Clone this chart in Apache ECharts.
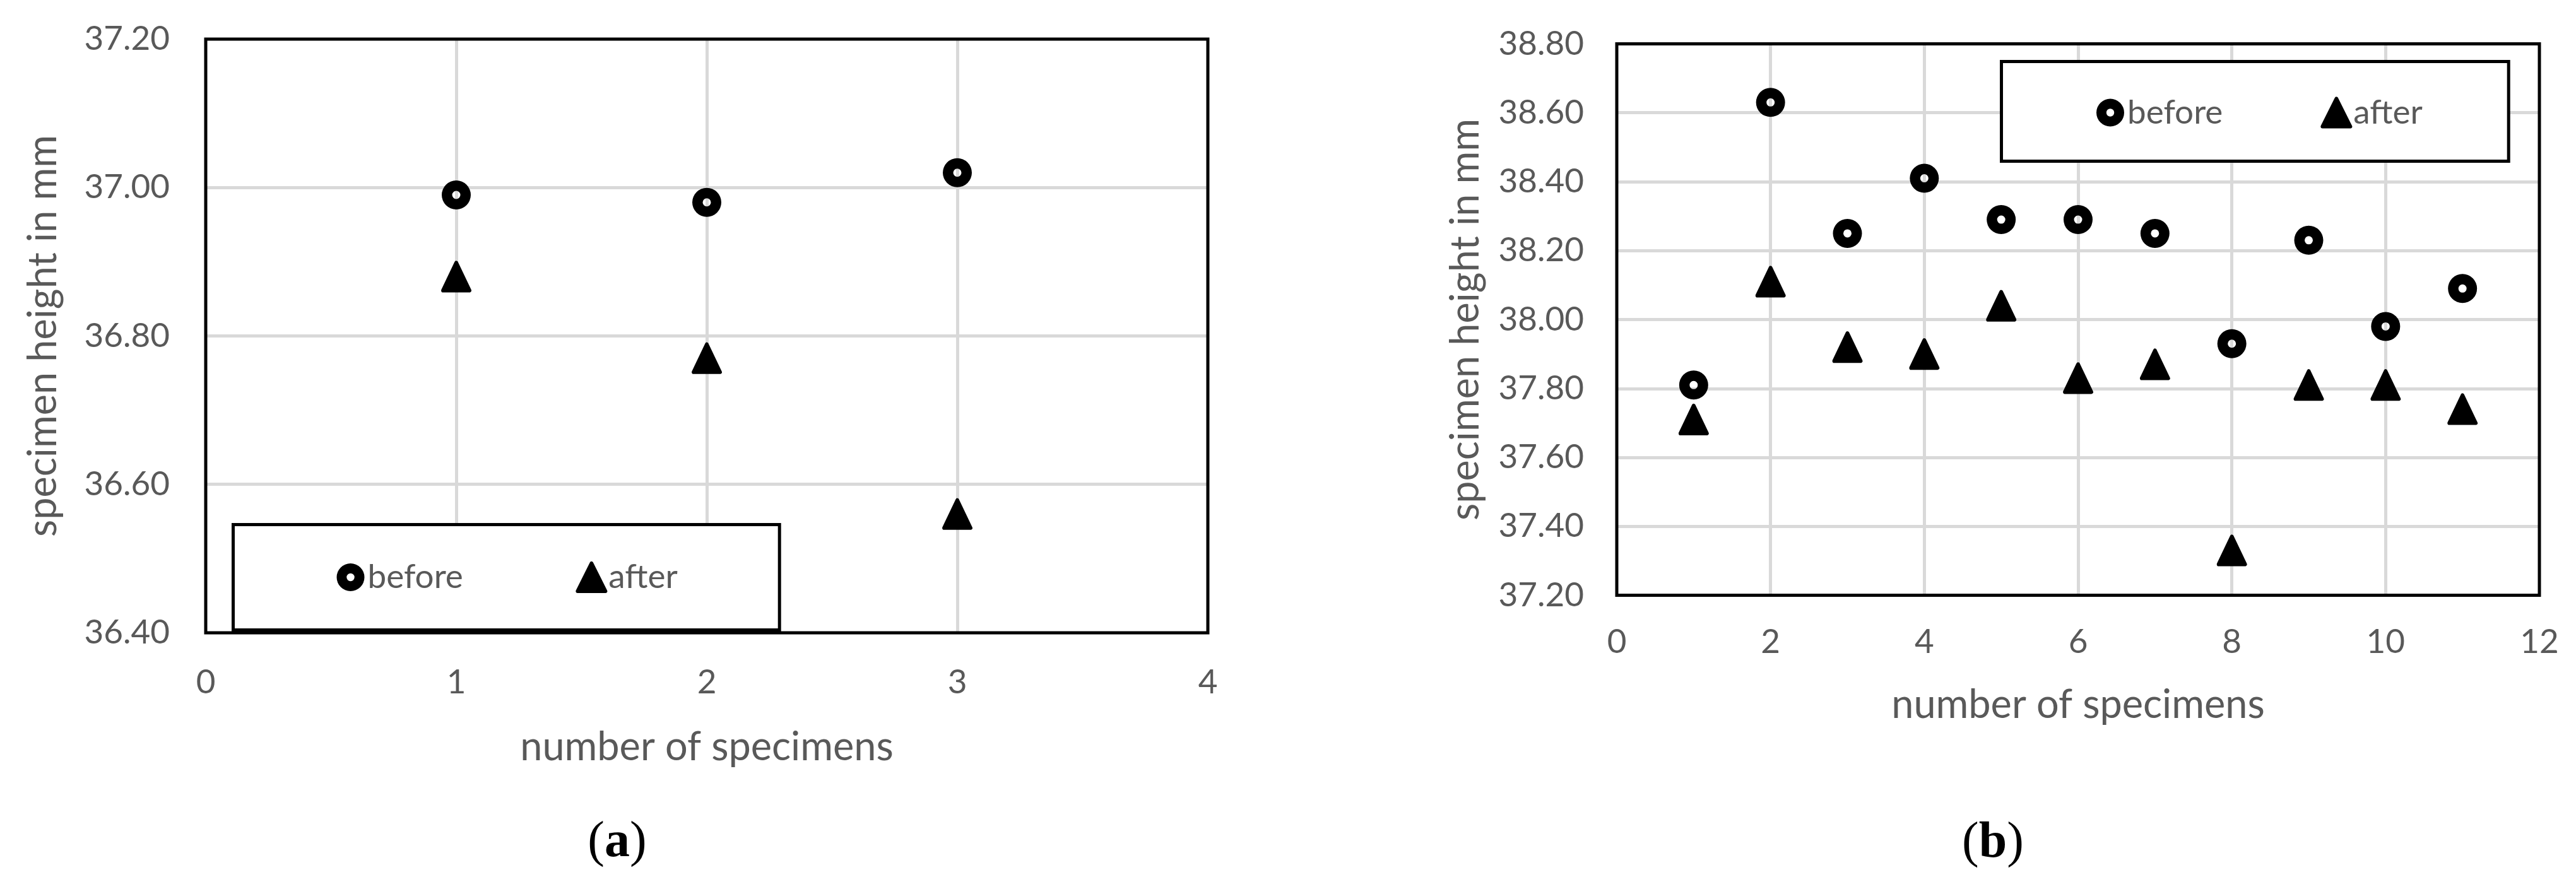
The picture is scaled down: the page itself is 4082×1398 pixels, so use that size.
<!DOCTYPE html>
<html>
<head>
<meta charset="utf-8">
<script src="https://cdn.jsdelivr.net/npm/echarts@6/dist/echarts.min.js"></script>
<style>
html,body{margin:0;padding:0;background:#fff;}
#chart{width:4082px;height:1398px;}
</style>
</head>
<body>
<div id="chart"></div>
<script>
// ---- data ----
const aSpecimens = [1, 2, 3];
const aBefore = [36.99, 36.98, 37.02];
const aAfter = [36.88, 36.77, 36.56];

const bSpecimens = [1, 2, 3, 4, 5, 6, 7, 8, 9, 10, 11];
const bBefore = [37.81, 38.63, 38.25, 38.41, 38.29, 38.29, 38.25, 37.93, 38.23, 37.98, 38.09];
const bAfter = [37.71, 38.11, 37.92, 37.90, 38.04, 37.83, 37.87, 37.33, 37.81, 37.81, 37.74];

const seriesNames = ['before', 'after'];
const xTitle = 'number of specimens';
const yTitle = 'specimen height in mm';
const captions = ['a', 'b'];

// ---- styling ----
const FONT = 'Lato';
const GREY = '#595959';
const GRIDC = '#d9d9d9';
const RING = 'path://M23,0 A23,23 0 1 1 23,46 A23,23 0 1 1 23,0 Z M23,16.5 A6.5,6.5 0 1 0 23,29.5 A6.5,6.5 0 1 0 23,16.5 Z';

function pairs(xs, ys) { return xs.map((x, i) => [x, ys[i]]); }

function xAxis(gi, max, interval, margin, nameGap) {
  return {
    gridIndex: gi, type: 'value', min: 0, max: max, interval: interval,
    name: xTitle, nameLocation: 'middle', nameGap: nameGap,
    nameTextStyle: { fontFamily: FONT, fontSize: 63, color: GREY },
    axisLine: { show: false }, axisTick: { show: false },
    axisLabel: { fontFamily: FONT, fontSize: 53, color: GREY, margin: margin },
    splitLine: { show: true, showMinLine: false, showMaxLine: false, lineStyle: { color: GRIDC, width: 5 } }
  };
}
function yAxis(gi, min, max, margin, nameGap) {
  return {
    gridIndex: gi, type: 'value', min: min, max: max, interval: 0.2,
    name: yTitle, nameLocation: 'middle', nameGap: nameGap, nameRotate: 90,
    nameTextStyle: { fontFamily: FONT, fontSize: 63, color: GREY },
    axisLine: { show: false }, axisTick: { show: false },
    axisLabel: { fontFamily: FONT, fontSize: 53, color: GREY, margin: margin,
      formatter: v => v.toFixed(2) },
    splitLine: { show: true, showMinLine: false, showMaxLine: false, lineStyle: { color: GRIDC, width: 5 } }
  };
}
function beforeSeries(idx, xs, ys) {
  return { name: seriesNames[0], type: 'scatter', xAxisIndex: idx, yAxisIndex: idx,
    data: pairs(xs, ys), symbol: RING, symbolSize: 46, z: 5,
    itemStyle: { color: '#000', opacity: 1 }, emphasis: { disabled: true } };
}
function afterSeries(idx, xs, ys) {
  return { name: seriesNames[1], type: 'scatter', xAxisIndex: idx, yAxisIndex: idx,
    data: pairs(xs, ys), symbol: 'triangle', symbolSize: [42, 44], z: 5,
    itemStyle: { color: '#000', opacity: 1, borderColor: '#000', borderWidth: 6, borderJoin: 'round' },
    emphasis: { disabled: true } };
}
function legend(left, top, gap, padding) {
  return {
    left: left, top: top, orient: 'horizontal', itemWidth: 44, itemHeight: 44, itemGap: gap,
    padding: padding, borderColor: '#000', borderWidth: 5, backgroundColor: '#fff',
    selectedMode: false, z: 4,
    textStyle: { fontFamily: FONT, fontSize: 53, color: GREY, width: 160 },
    data: [
      { name: seriesNames[0] },
      { name: seriesNames[1], itemStyle: { borderWidth: 6, borderColor: '#000', borderJoin: 'round' } }
    ]
  };
}
function caption(letter, x, y) {
  return { type: 'text', x: x, y: y,
    style: { text: '{p|(}{b|' + letter + '}{p|)}', align: 'center', verticalAlign: 'middle',
      rich: { p: { fontFamily: 'Liberation Serif', fontSize: 80, fill: '#000' },
              b: { fontFamily: 'Liberation Serif', fontSize: 80, fontWeight: 'bold', fill: '#000' } } } };
}

const chart = echarts.init(document.getElementById('chart'), null, { renderer: 'canvas' });
chart.setOption({
  animation: false,
  backgroundColor: '#fff',
  grid: [
    { left: 326, top: 62, width: 1588, height: 941, show: true, borderColor: '#000', borderWidth: 5, backgroundColor: 'transparent', z: 3 },
    { left: 2562, top: 69.5, width: 1462, height: 874, show: true, borderColor: '#000', borderWidth: 5, backgroundColor: 'transparent', z: 3 }
  ],
  xAxis: [ xAxis(0, 4, 1, 52, 150), xAxis(1, 12, 2, 48, 143) ],
  yAxis: [ yAxis(0, 36.4, 37.2, 57, 226), yAxis(1, 37.2, 38.8, 52, 208) ],
  legend: [
    legend(369.5, 831.5, 178.5, [57, 161.5, 57, 164]),
    legend(3171.5, 97.5, 155, [54.5, 136.5, 50.5, 150.5])
  ],
  series: [
    beforeSeries(0, aSpecimens, aBefore), afterSeries(0, aSpecimens, aAfter),
    beforeSeries(1, bSpecimens, bBefore), afterSeries(1, bSpecimens, bAfter)
  ],
  graphic: [ caption(captions[0], 978, 1336), caption(captions[1], 3158, 1337) ]
});
</script>
</body>
</html>
